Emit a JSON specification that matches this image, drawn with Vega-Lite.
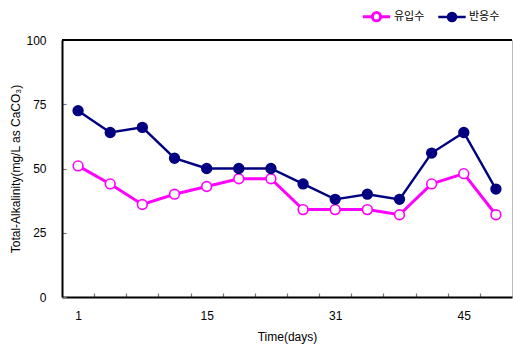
{
  "$schema": "https://vega.github.io/schema/vega-lite/v6.json",
  "width": 450,
  "height": 257,
  "autosize": "none",
  "padding": {"left": 62, "top": 40, "right": 1, "bottom": 49},
  "background": "white",
  "config": {
    "font": "Liberation Sans",
    "view": {"stroke": "#BBBBBB", "strokeWidth": 1}
  },
  "data": {
    "values": [
      {"idx": 1, "series": "유입수", "value": 51},
      {"idx": 2, "series": "유입수", "value": 44},
      {"idx": 3, "series": "유입수", "value": 36},
      {"idx": 4, "series": "유입수", "value": 40},
      {"idx": 5, "series": "유입수", "value": 43},
      {"idx": 6, "series": "유입수", "value": 46},
      {"idx": 7, "series": "유입수", "value": 46},
      {"idx": 8, "series": "유입수", "value": 34},
      {"idx": 9, "series": "유입수", "value": 34},
      {"idx": 10, "series": "유입수", "value": 34},
      {"idx": 11, "series": "유입수", "value": 32},
      {"idx": 12, "series": "유입수", "value": 44},
      {"idx": 13, "series": "유입수", "value": 48},
      {"idx": 14, "series": "유입수", "value": 32},
      {"idx": 1, "series": "반응수", "value": 72.5},
      {"idx": 2, "series": "반응수", "value": 64},
      {"idx": 3, "series": "반응수", "value": 66},
      {"idx": 4, "series": "반응수", "value": 54},
      {"idx": 5, "series": "반응수", "value": 50},
      {"idx": 6, "series": "반응수", "value": 50},
      {"idx": 7, "series": "반응수", "value": 50},
      {"idx": 8, "series": "반응수", "value": 44},
      {"idx": 9, "series": "반응수", "value": 38},
      {"idx": 10, "series": "반응수", "value": 40},
      {"idx": 11, "series": "반응수", "value": 38},
      {"idx": 12, "series": "반응수", "value": 56},
      {"idx": 13, "series": "반응수", "value": 64},
      {"idx": 14, "series": "반응수", "value": 42}
    ]
  },
  "resolve": {"axis": {"x": "independent"}},
  "layer": [
    {
      "mark": {"type": "line"},
      "encoding": {
        "x": {
          "field": "idx", "type": "quantitative",
          "scale": {"domain": [0.5, 14.5], "nice": false, "zero": false},
          "axis": {
            "orient": "bottom",
            "values": [1.5, 2.5, 3.5, 4.5, 5.5, 6.5, 7.5, 8.5, 9.5, 10.5, 11.5, 12.5, 13.5],
            "labels": false, "grid": false, "title": null,
            "domainColor": "black", "domainWidth": 2,
            "tickColor": "#777777", "tickSize": -4, "tickWidth": 1.2
          }
        },
        "y": {
          "field": "value", "type": "quantitative",
          "scale": {"domain": [0, 100], "nice": false},
          "axis": {
            "values": [0, 25, 50, 75, 100],
            "grid": false,
            "title": "Total-Alkalinity(mg/L as CaCO₃)",
            "titleFont": "Liberation Sans", "titleFontSize": 12, "titleFontWeight": "normal",
            "titleColor": "black", "titlePadding": 3,
            "labelFont": "Liberation Sans", "labelFontSize": 12, "labelColor": "black",
            "labelPadding": 20,
            "domainColor": "black", "domainWidth": 2,
            "tickColor": "#777777", "tickSize": -4, "tickWidth": 1.2
          }
        },
        "color": {
          "field": "series", "type": "nominal",
          "scale": {"domain": ["유입수", "반응수"], "range": ["#FF00FF", "#000080"]},
          "legend": {
            "title": null, "orient": "none", "direction": "horizontal",
            "legendX": 299, "legendY": -39,
            "symbolType": "M-1,0L-0.3,0M0.3,0L1,0M-0.3,0A0.3,0.3 0 1,0 0.3,0A0.3,0.3 0 1,0 -0.3,0",
            "symbolSize": 750, "symbolStrokeWidth": 1.8,
            "labelFont": "Noto Sans CJK KR", "labelFontSize": 11, "labelColor": "black",
            "columnPadding": 8, "labelOffset": 2
          }
        },
        "strokeWidth": {
          "field": "series", "type": "nominal",
          "scale": {"domain": ["유입수", "반응수"], "range": [3, 2.4]},
          "legend": null
        }
      }
    },
    {
      "mark": {"type": "point", "shape": "circle", "size": 95, "strokeWidth": 1.6, "opacity": 1},
      "encoding": {
        "x": {
          "field": "idx", "type": "quantitative",
          "axis": {
            "orient": "bottom",
            "values": [1, 5, 9, 13],
            "labelExpr": "datum.value == 1 ? '1' : datum.value == 5 ? '15' : datum.value == 9 ? '31' : '45'",
            "ticks": false, "domain": false, "grid": false,
            "labelFont": "Liberation Sans", "labelFontSize": 12, "labelColor": "black",
            "labelPadding": 13,
            "title": "Time(days)",
            "titleFont": "Liberation Sans", "titleFontSize": 12, "titleFontWeight": "normal",
            "titleColor": "black", "titlePadding": 10
          }
        },
        "y": {"field": "value", "type": "quantitative"},
        "color": {"field": "series", "type": "nominal"},
        "fill": {
          "field": "series", "type": "nominal",
          "scale": {"domain": ["유입수", "반응수"], "range": ["white", "#000080"]},
          "legend": {
            "title": null, "orient": "none", "direction": "horizontal",
            "legendX": 299, "legendY": -39,
            "symbolType": "M-1,0L-0.3,0M0.3,0L1,0M-0.3,0A0.3,0.3 0 1,0 0.3,0A0.3,0.3 0 1,0 -0.3,0",
            "symbolSize": 750, "symbolStrokeWidth": 1.8,
            "labelFont": "Noto Sans CJK KR", "labelFontSize": 11, "labelColor": "black",
            "columnPadding": 8, "labelOffset": 2
          }
        }
      }
    },
    {
      "mark": {"type": "rule", "color": "black", "strokeWidth": 2},
      "encoding": {
        "y": {"datum": 100}
      }
    }
  ]
}
